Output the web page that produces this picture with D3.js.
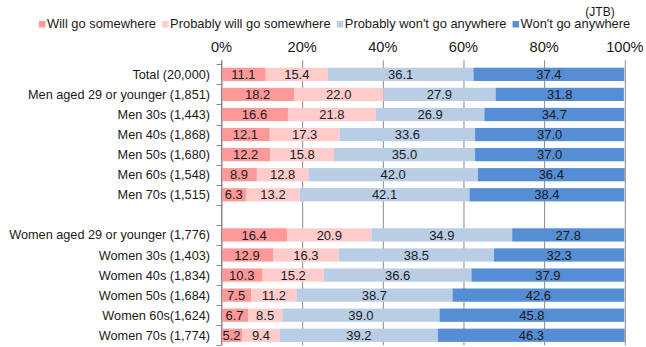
<!DOCTYPE html>
<html>
<head>
<meta charset="utf-8">
<script src="https://cdn.jsdelivr.net/npm/d3@7"></script>
<style>
  html, body { margin: 0; padding: 0; background: #fff; }
  svg { display: block; font-family: "Liberation Sans", Arial, sans-serif; }
</style>
</head>
<body>
<svg id="chart" width="646" height="347"></svg>
<script>
// ---- Data ----
const categories = [
  "Total (20,000)",
  "Men aged 29 or younger (1,851)",
  "Men 30s (1,443)",
  "Men 40s (1,868)",
  "Men 50s (1,680)",
  "Men 60s (1,548)",
  "Men 70s (1,515)",
  "",
  "Women aged 29 or younger (1,776)",
  "Women 30s (1,403)",
  "Women 40s (1,834)",
  "Women 50s (1,684)",
  "Women 60s(1,624)",
  "Women 70s (1,774)"
];
const seriesNames = ["Will go somewhere", "Probably will go somewhere", "Probably won't go anywhere", "Won't go anywhere"];
const willGo       = [11.1, 18.2, 16.6, 12.1, 12.2,  8.9,  6.3, null, 16.4, 12.9, 10.3,  7.5,  6.7,  5.2];
const probablyWill = [15.4, 22.0, 21.8, 17.3, 15.8, 12.8, 13.2, null, 20.9, 16.3, 15.2, 11.2,  8.5,  9.4];
const probablyWont = [36.1, 27.9, 26.9, 33.6, 35.0, 42.0, 42.1, null, 34.9, 38.5, 36.6, 38.7, 39.0, 39.2];
const wont         = [37.4, 31.8, 34.7, 37.0, 37.0, 36.4, 38.4, null, 27.8, 32.3, 37.9, 42.6, 45.8, 46.3];
const tickValues = [0, 20, 40, 60, 80, 100];
const tickLabels = ["0%", "20%", "40%", "60%", "80%", "100%"];
const sourceNote = "(JTB)";

// ---- Style ----
const colors = ["#FF9999", "#FFCCCC", "#B9CDE5", "#558ED5"];
const gridColor = "#8a8a8a";
const textColor = "#1a1a1a";

const svg = d3.select("#chart");
const plot = { left: 221, right: 624.3, top: 64.3, bottom: 345.3 };

const x = d3.scaleLinear().domain([0, 100]).range([plot.left, plot.right]);
const y = d3.scaleBand()
  .domain(d3.range(categories.length))
  .range([plot.top, plot.bottom])
  .paddingInner(0.34)
  .paddingOuter(0.17);

const keys = ["willGo", "probablyWill", "probablyWont", "wont"];
const rows = categories.map((c, i) => ({
  idx: i, cat: c,
  willGo: willGo[i], probablyWill: probablyWill[i], probablyWont: probablyWont[i], wont: wont[i]
}));
const stacked = d3.stack().keys(keys).value((d, k) => d[k] == null ? 0 : d[k])(rows);

// ---- Gridlines / top axis ----
const topAxisY = plot.top - 4;
const gx = svg.append("g")
  .attr("transform", `translate(0,${topAxisY})`)
  .call(d3.axisTop(x)
    .tickValues(tickValues)
    .tickFormat((d, i) => tickLabels[i])
    .tickSizeInner(-(plot.bottom - topAxisY))
    .tickSizeOuter(0)
    .tickPadding(8.8));
gx.select(".domain").remove();
gx.selectAll(".tick line")
  .attr("stroke", gridColor)
  .attr("transform", "translate(0.5,0)");
gx.selectAll(".tick text")
  .attr("fill", textColor)
  .style("font-size", "14.6px")
  .style("font-family", "'Liberation Sans', Arial, sans-serif");

// ---- Bars ----
const layer = svg.append("g").selectAll("g")
  .data(stacked)
  .join("g")
  .attr("fill", (d, i) => colors[i]);

layer.selectAll("rect")
  .data(d => d.filter(s => s.data[d.key] != null).map(s => ({ s, key: d.key })))
  .join("rect")
  .attr("x", d => x(d.s[0]))
  .attr("width", d => x(d.s[1]) - x(d.s[0]))
  .attr("y", d => y(d.s.data.idx))
  .attr("height", y.bandwidth());

// ---- Value labels ----
svg.append("g").selectAll("g")
  .data(stacked)
  .join("g")
  .selectAll("text")
  .data(d => d.filter(s => s.data[d.key] != null).map(s => ({ s, key: d.key })))
  .join("text")
  .attr("x", d => (x(d.s[0]) + x(d.s[1])) / 2)
  .attr("y", d => y(d.s.data.idx) + y.bandwidth() / 2)
  .attr("dy", "0.36em")
  .attr("text-anchor", "middle")
  .attr("fill", textColor)
  .style("font-size", "13px")
  .text(d => d.s.data[d.key].toFixed(1));

// ---- Left axis (category) ----
const step = y.step();
const boundaries = d3.range(categories.length).map(i => y(i) + y.bandwidth() / 2 - step / 2);
boundaries.push(plot.bottom);
const ga = svg.append("g");
ga.append("line")
  .attr("x1", Math.round(plot.left) + 0.5).attr("x2", Math.round(plot.left) + 0.5)
  .attr("y1", topAxisY).attr("y2", plot.bottom)
  .attr("stroke", gridColor);
ga.selectAll("line.tk")
  .data(boundaries)
  .join("line")
  .attr("class", "tk")
  .attr("x1", plot.left - 4.5).attr("x2", plot.left)
  .attr("y1", d => Math.round(d) + 0.5).attr("y2", d => Math.round(d) + 0.5)
  .attr("stroke", gridColor);

svg.append("g").selectAll("text")
  .data(rows)
  .join("text")
  .attr("x", 210)
  .attr("y", d => y(d.idx) + y.bandwidth() / 2)
  .attr("dy", "0.36em")
  .attr("text-anchor", "end")
  .attr("fill", textColor)
  .style("font-size", "12.7px")
  .text(d => d.cat);

// ---- Legend ----
const legend = svg.append("g");
let lx = 39;
seriesNames.forEach((name, i) => {
  legend.append("rect")
    .attr("x", lx).attr("y", 21)
    .attr("width", 6.5).attr("height", 6.5)
    .attr("fill", colors[i]);
  const t = legend.append("text")
    .attr("x", lx + 8).attr("y", 27.6)
    .attr("fill", textColor)
    .style("font-size", "12.9px")
    .text(name);
  lx += 8 + t.node().getComputedTextLength() + 6.2;
});

svg.append("text")
  .attr("x", 600).attr("y", 16.3)
  .attr("text-anchor", "middle")
  .attr("fill", textColor)
  .style("font-size", "12px")
  .text(sourceNote);
</script>
</body>
</html>
